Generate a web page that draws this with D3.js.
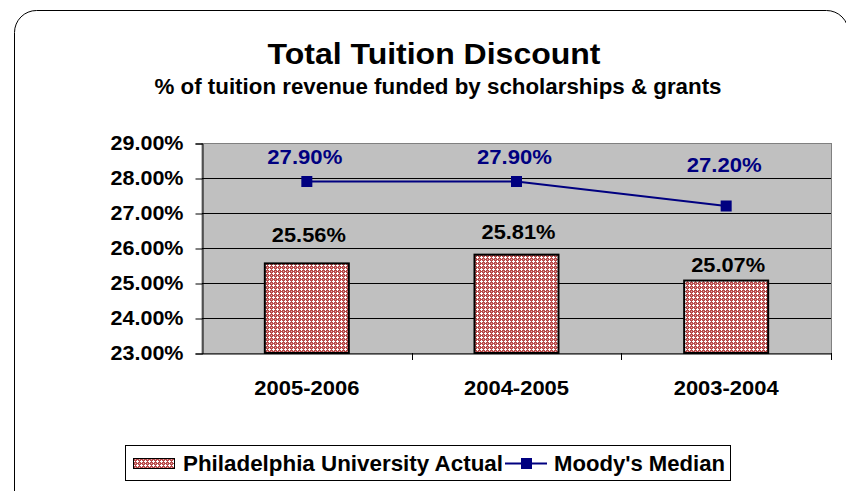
<!DOCTYPE html>
<html>
<head>
<meta charset="utf-8">
<script src="https://cdn.jsdelivr.net/npm/d3@7"></script>
<style>
  body { margin: 0; background: #fff; }
  text { font-family: Arial, "Liberation Sans", sans-serif; font-weight: bold; }
</style>
</head>
<body>
<script>
var width = 846, height = 491;

var categories = ["2005-2006", "2004-2005", "2003-2004"];
var actual = [25.56, 25.81, 25.07];
var moodys = [27.90, 27.90, 27.20];
var yTicks = [23, 24, 25, 26, 27, 28, 29];

// label offsets (px above the mark), as placed in the original
var actualLabelGap = [21, 16, 9];
var moodysLabelGap = [18, 18, 34];

var plot = {left: 202, top: 143, right: 831, bottom: 353};
var font = "Arial, 'Liberation Sans', sans-serif";

var svg = d3.select("body").append("svg")
    .attr("width", width)
    .attr("height", height);

// hatch pattern for the bars
var defs = svg.append("defs");
var pat = defs.append("pattern")
    .attr("id", "dots")
    .attr("patternUnits", "userSpaceOnUse")
    .attr("width", 4).attr("height", 4);
pat.append("rect").attr("width", 4).attr("height", 4).attr("fill", "#b84a4a");
pat.append("rect").attr("x", 1).attr("y", 0).attr("width", 1).attr("height", 3).attr("fill", "#fff");
pat.append("rect").attr("x", 0).attr("y", 1).attr("width", 3).attr("height", 1).attr("fill", "#fff");
pat.append("rect").attr("x", 3).attr("y", 3).attr("width", 1).attr("height", 1).attr("fill", "#e0a8a8");

// outer chart border
svg.append("rect")
    .attr("x", 14.5).attr("y", 10.5)
    .attr("width", 834).attr("height", 520)
    .attr("rx", 22)
    .attr("fill", "none").attr("stroke", "#000").attr("stroke-width", 1);

svg.append("text")
    .attr("x", 434).attr("y", 64)
    .attr("text-anchor", "middle")
    .attr("font-size", 30)
    .attr("textLength", 333).attr("lengthAdjust", "spacingAndGlyphs")
    .text("Total Tuition Discount");

svg.append("text")
    .attr("x", 438).attr("y", 94)
    .attr("text-anchor", "middle")
    .attr("font-size", 22)
    .attr("textLength", 567).attr("lengthAdjust", "spacingAndGlyphs")
    .text("% of tuition revenue funded by scholarships & grants");

var x = d3.scaleBand().domain(categories).range([plot.left, plot.right]);
var y = d3.scaleLinear().domain([23, 29]).range([plot.bottom, plot.top]);

// plot area
svg.append("rect")
    .attr("x", plot.left).attr("y", plot.top + 0.5)
    .attr("width", plot.right - plot.left + 0.5).attr("height", plot.bottom - plot.top)
    .attr("fill", "#c0c0c0").attr("stroke", "#808080");

// gridlines
svg.append("g").selectAll("line")
    .data(yTicks.slice(1, -1))
    .enter().append("line")
    .attr("x1", plot.left).attr("x2", plot.right)
    .attr("y1", function(d) { return Math.round(y(d)) + 0.5; })
    .attr("y2", function(d) { return Math.round(y(d)) + 0.5; })
    .attr("stroke", "#000");

// y axis
var yAxis = svg.append("g")
    .attr("transform", "translate(" + (plot.left + 0.5) + ",0.5)")
    .call(d3.axisLeft(y).tickValues(yTicks).tickSize(7).tickPadding(12)
        .tickFormat(function(d) { return d.toFixed(2) + "%"; }));
yAxis.selectAll("text").attr("font-size", 20).attr("fill", "#000")
    .attr("textLength", 73).attr("lengthAdjust", "spacingAndGlyphs")
    .style("font-family", font);
yAxis.selectAll("line").attr("stroke", "#000");
yAxis.select(".domain").attr("stroke", "#000");

// x axis
var xAxis = svg.append("g")
    .attr("transform", "translate(0," + (plot.bottom + 0.5) + ")")
    .call(d3.axisBottom(x).tickSize(0).tickPadding(27));
xAxis.selectAll("text").attr("font-size", 20).attr("fill", "#000")
    .attr("textLength", 105).attr("lengthAdjust", "spacingAndGlyphs")
    .style("font-family", font);
xAxis.select(".domain").attr("stroke", "#000");
svg.append("g").selectAll("line")
    .data(categories)
    .enter().append("line")
    .attr("x1", function(d) { return Math.round(x(d) + x.bandwidth()) + 0.5; })
    .attr("x2", function(d) { return Math.round(x(d) + x.bandwidth()) + 0.5; })
    .attr("y1", plot.bottom).attr("y2", plot.bottom + 7)
    .attr("stroke", "#000");

// bars
var barW = 84;
svg.append("g").selectAll("rect")
    .data(actual)
    .enter().append("rect")
    .attr("x", function(d, i) { return x(categories[i]) + x.bandwidth() / 2 - barW / 2; })
    .attr("y", function(d) { return y(d); })
    .attr("width", barW)
    .attr("height", function(d) { return plot.bottom - y(d); })
    .attr("fill", "url(#dots)")
    .attr("stroke", "#000").attr("stroke-width", 2);

svg.append("g").selectAll("text")
    .data(actual)
    .enter().append("text")
    .attr("x", function(d, i) { return x(categories[i]) + x.bandwidth() / 2 + 2; })
    .attr("y", function(d, i) { return y(d) - actualLabelGap[i]; })
    .attr("text-anchor", "middle")
    .attr("font-size", 21)
    .attr("textLength", 74).attr("lengthAdjust", "spacingAndGlyphs")
    .text(function(d) { return d.toFixed(2) + "%"; });

// Moody's line
var line = d3.line()
    .x(function(d, i) { return x(categories[i]) + x.bandwidth() / 2; })
    .y(function(d) { return y(d); });

svg.append("path")
    .datum(moodys)
    .attr("d", line)
    .attr("fill", "none")
    .attr("stroke", "#000080")
    .attr("stroke-width", 2);

svg.append("g").selectAll("rect")
    .data(moodys)
    .enter().append("rect")
    .attr("x", function(d, i) { return x(categories[i]) + x.bandwidth() / 2 - 5.5; })
    .attr("y", function(d) { return y(d) - 5.5; })
    .attr("width", 11).attr("height", 11)
    .attr("fill", "#000080");

svg.append("g").selectAll("text")
    .data(moodys)
    .enter().append("text")
    .attr("x", function(d, i) { return x(categories[i]) + x.bandwidth() / 2 - 2; })
    .attr("y", function(d, i) { return y(d) - moodysLabelGap[i]; })
    .attr("text-anchor", "middle")
    .attr("font-size", 21)
    .attr("fill", "#000080")
    .attr("textLength", 75).attr("lengthAdjust", "spacingAndGlyphs")
    .text(function(d) { return d.toFixed(2) + "%"; });

// legend
var lg = svg.append("g");
lg.append("rect")
    .attr("x", 125.5).attr("y", 445.5)
    .attr("width", 605).attr("height", 35)
    .attr("fill", "#fff").attr("stroke", "#000");
lg.append("rect")
    .attr("x", 133.5).attr("y", 458.5)
    .attr("width", 41).attr("height", 10)
    .attr("fill", "url(#dots)").attr("stroke", "#000");
lg.append("text")
    .attr("x", 183).attr("y", 471)
    .attr("font-size", 22)
    .attr("textLength", 320).attr("lengthAdjust", "spacingAndGlyphs")
    .text("Philadelphia University Actual");
lg.append("line")
    .attr("x1", 505).attr("x2", 547)
    .attr("y1", 463.5).attr("y2", 463.5)
    .attr("stroke", "#000080").attr("stroke-width", 2);
lg.append("rect")
    .attr("x", 521).attr("y", 458)
    .attr("width", 11).attr("height", 11)
    .attr("fill", "#000080");
lg.append("text")
    .attr("x", 554).attr("y", 471)
    .attr("font-size", 22)
    .attr("textLength", 171).attr("lengthAdjust", "spacingAndGlyphs")
    .text("Moody's Median");
</script>
</body>
</html>
